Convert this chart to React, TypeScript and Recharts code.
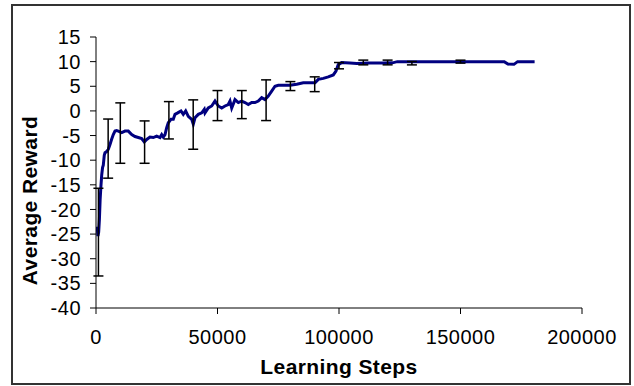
import React from 'react';
import { ComposedChart, Line, Scatter, ErrorBar, XAxis, YAxis } from 'recharts';

// Average reward curve (learning steps -> reward)
const lineSteps = [
  500, 800, 1100, 1400, 1700, 2000, 2350, 2700, 3000, 3400, 3700, 4300, 5060, 5760, 6400, 7120, 7820, 8500, 9180,
  10580, 11930, 13290, 14690, 16050, 17410, 18810, 19880, 20860, 22220, 23580, 24980, 26340, 27040, 27700, 28400,
  29090, 29750, 30860, 31810, 32510, 33620, 34980, 35920, 36910, 37980, 39380, 40040, 40740, 42100, 43500, 44560,
  44850, 46210, 47610, 48970, 50330, 51730, 53080, 54440, 55140, 55840, 57200, 58560, 59960, 61310, 62670, 64070,
  65430, 66790, 68190, 69540, 70900, 72300, 73660, 75020, 77080, 79830, 82590, 85300, 88060, 90120, 91480, 93530,
  95590, 97650, 98760, 99700, 101100, 104500, 107300, 112000, 118000, 122000, 124000, 140000, 150000, 160000,
  168000, 169500, 172000, 173500, 180500,
];
const lineValues = [
  -23.5, -25.4, -24.6, -22, -18, -15.5, -13, -11.5, -11, -9, -8.5, -8.3, -7.8, -6.8, -5.8, -4.8, -4.1, -4.0, -4.1,
  -4.4, -4.1, -4.1, -4.8, -5.2, -5.4, -5.6, -6.3, -5.8, -5.3, -5.4, -5.1, -5.4, -4.8, -5.3, -4.8,
  -3.4, -2.4, -1.7, -1.7, -0.7, -0.4, 0, -0.7, 0, -1.1, -1.7, -2.7, -1.4, -0.7, -0.4, 0.3,
  -0.4, 0.6, 1.0, 2.0, 1.0, 0.6, 1.0, 1.3, 2.0, 0.6, 2.3, 1.7, 2.0, 1.7, 1.3, 1.7,
  1.7, 2.0, 2.7, 2.3, 3.0, 4.0, 5.0, 5.2, 5.2, 5.2, 5.4, 5.7, 5.7, 5.7, 6.4, 6.6,
  6.9, 7.3, 8.1, 9.4, 9.8, 9.7, 9.6, 9.7, 9.7, 9.75, 10.0, 10.0, 10.0, 10.0,
  10.0, 9.5, 9.45, 10.0, 10.0,
];

// Error bars: step, mean, half-range
const errSteps = [1000, 5000, 10000, 20000, 30000, 40000, 50000, 60000, 70000, 80000, 90000, 100000, 110000, 120000, 130000, 150000];
const errMeans = [-24.6, -7.65, -4.5, -6.33, -1.9, -2.77, 1.08, 1.28, 2.17, 5.04, 5.41, 9.18, 9.83, 9.83, 9.68, 10.0];
const errHalf = [8.9, 6.0, 6.13, 4.3, 3.79, 5.01, 3.05, 2.85, 4.13, 0.91, 1.5, 0.64, 0.48, 0.48, 0.34, 0.3];

const yTicks = [-40, -35, -30, -25, -20, -15, -10, -5, 0, 5, 10, 15];
const xTicks = [0, 50000, 100000, 150000, 200000];

const lineData = lineSteps.map((s, i) => ({ step: s, reward: lineValues[i] }));
const errData = errSteps.map((s, i) => ({ step: s, mean: errMeans[i], err: errHalf[i] }));

const FONT = 'Liberation Sans, Arial, Helvetica, sans-serif';

const XTitle = (props: any) => {
  const vb = props.viewBox || {};
  return (
    <text
      x={vb.x + vb.width / 2}
      y={vb.y + 66}
      textAnchor="middle"
      fontFamily={FONT}
      fontSize={21}
      fontWeight="bold"
      letterSpacing={0.4}
      fill="#000"
    >
      Learning Steps
    </text>
  );
};

const YTitle = (props: any) => {
  const vb = props.viewBox || {};
  const cx = 37;
  const cy = vb.y + vb.height / 2 + 28;
  return (
    <text
      x={cx}
      y={cy}
      transform={`rotate(-90, ${cx}, ${cy})`}
      textAnchor="middle"
      fontFamily={FONT}
      fontSize={21}
      fontWeight="bold"
      letterSpacing={0.4}
      fill="#000"
    >
      Average Reward
    </text>
  );
};

export default function App() {
  return (
    <div style={{ position: 'absolute', left: 0, top: 0, width: 634, height: 386, background: '#fff' }}>
      <div
        style={{
          position: 'absolute',
          left: 11,
          top: 4,
          width: 620,
          height: 381,
          border: '2px solid #333',
          boxSizing: 'border-box',
        }}
      />
      <div style={{ position: 'absolute', left: 0, top: 0 }}>
        <ComposedChart
          width={634}
          height={386}
          margin={{ top: 37, right: 52, bottom: 38, left: 0 }}
        >
          <XAxis
            dataKey="step"
            type="number"
            domain={[0, 200000]}
            ticks={xTicks}
            interval={0}
            allowDataOverflow
            height={40}
            tickSize={6}
            tickMargin={16}
            axisLine={{ stroke: '#000', strokeWidth: 1 }}
            tickLine={{ stroke: '#000', strokeWidth: 1 }}
            tick={{ fontSize: 20, fill: '#000', fontFamily: FONT, letterSpacing: 0.5 }}
            label={<XTitle />}
          />
          <YAxis
            type="number"
            domain={[-40, 15]}
            ticks={yTicks}
            interval={0}
            allowDataOverflow
            width={96}
            tickSize={6}
            tickMargin={9}
            axisLine={{ stroke: '#000', strokeWidth: 1 }}
            tickLine={{ stroke: '#000', strokeWidth: 1 }}
            tick={{ fontSize: 20, fill: '#000', fontFamily: FONT, letterSpacing: 0.5 }}
            label={<YTitle />}
          />
          <Line
            data={lineData}
            dataKey="reward"
            type="linear"
            stroke="#000080"
            strokeWidth={3}
            dot={false}
            activeDot={false}
            isAnimationActive={false}
          />
          <Scatter
            data={errData}
            dataKey="mean"
            isAnimationActive={false}
            shape={() => <g />}
          >
            <ErrorBar dataKey="err" direction="y" width={5} stroke="#000" strokeWidth={1.5} />
          </Scatter>
        </ComposedChart>
      </div>
    </div>
  );
}
